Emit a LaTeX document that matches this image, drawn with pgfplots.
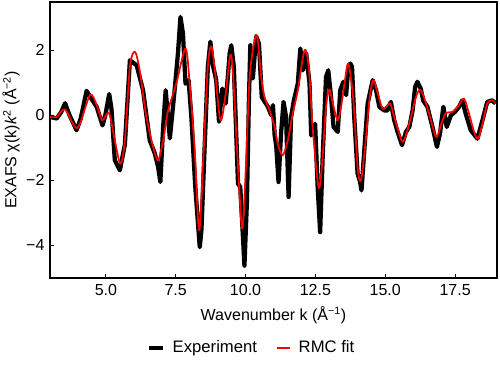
\documentclass[border=0pt]{standalone}
\usepackage{fontspec}
\setmainfont{Liberation Sans}
\usepackage{pgfplots}
\pgfplotsset{compat=1.18}
\begin{document}
\fontsize{12pt}{14.4pt}\selectfont
\begin{tikzpicture}
\begin{axis}[
  scale only axis,
  width=335.25pt, height=207pt,
  xmin=3, xmax=19, ymin=-5, ymax=3.48,
  axis line style={line width=1.5pt},
  tick align=inside, tick pos=left,
  major tick length=3pt,
  tick style={line width=0.8pt, black},
  xtick={5,7.5,10,12.5,15,17.5},
  xticklabels={5.0,7.5,10.0,12.5,15.0,17.5},
  ytick={-4,-2,0,2},
  yticklabels={−4,−2,0,2},
  ticklabel style={font=\fontsize{12pt}{14.4pt}\selectfont},
  xticklabel style={yshift=-0.5pt},
  xlabel={Wavenumber k (Å\textsuperscript{−1})},
  ylabel={EXAFS χ(k)\textit{k}\textsuperscript{2} (Å\textsuperscript{−2})},
  label style={font=\fontsize{12pt}{14.4pt}\selectfont},
  xlabel style={at={(axis description cs:0.5,-0.134)}, anchor=center},
  ylabel style={at={(axis description cs:-0.087,0.5)}, anchor=center},
  legend style={draw=none, fill=none, at={(axis description cs:0.452,-0.254)}, anchor=center,
    legend columns=2,
    /tikz/every odd column/.append style={column sep=4pt},
    /tikz/every even column/.append style={column sep=12pt},
    font=\fontsize{12.5pt}{15pt}\selectfont},
  legend image code/.code={\draw[#1] (0pt,0pt) -- (10pt,0pt);},
]
\addplot[black, line width=3.2pt, line join=round] coordinates {
(3.00,-0.05) (3.24,-0.10) (3.40,0.10) (3.54,0.37) (3.70,0.00) (3.95,-0.46)
(4.10,-0.10) (4.31,0.75) (4.45,0.55) (4.67,0.26) (4.88,-0.31) (4.98,0.00)
(5.12,0.65) (5.20,0.20) (5.32,-1.38) (5.50,-1.69) (5.68,-0.90) (5.86,1.69)
(6.00,1.60) (6.10,1.54) (6.33,0.77) (6.45,0.00) (6.57,-0.77) (6.75,-1.17)
(6.87,-1.59) (6.95,-2.05) (7.05,-0.36) (7.14,0.77) (7.22,0.00) (7.29,-0.71)
(7.46,0.77) (7.58,1.90) (7.67,3.02) (7.76,2.51) (7.85,0.97) (7.96,1.08)
(8.06,-0.05) (8.20,-2.20) (8.36,-4.05) (8.42,-3.54) (8.54,-0.87) (8.65,1.49)
(8.74,2.26) (8.83,1.54) (8.95,1.08) (9.05,-0.20) (9.17,0.82) (9.29,0.36)
(9.43,1.90) (9.49,2.15) (9.58,1.49) (9.73,-2.10) (9.81,-2.20) (9.90,-3.64)
(9.96,-4.62) (10.05,-2.62) (10.12,0.46) (10.17,2.15) (10.26,1.13) (10.38,2.43)
(10.48,2.20) (10.58,0.56) (10.80,0.26) (10.92,0.00) (10.98,0.31) (11.04,-0.60)
(11.10,-0.97) (11.18,-2.05) (11.27,-0.56) (11.36,0.41) (11.45,-0.05) (11.54,-2.51)
(11.63,-0.05) (11.73,0.46) (11.87,0.97) (11.96,2.05) (12.05,1.38) (12.17,1.90)
(12.29,0.97) (12.35,-0.62) (12.49,-0.26) (12.58,-2.20) (12.67,-3.59) (12.76,-1.28)
(12.88,1.18) (12.96,1.38) (13.06,0.56) (13.15,-0.36) (13.30,-0.51) (13.39,0.77)
(13.50,1.03) (13.60,0.62) (13.68,1.49) (13.75,1.59) (13.81,1.49) (13.89,-0.05)
(14.01,-1.79) (14.10,-2.05) (14.15,-2.31) (14.25,-1.08) (14.37,0.36) (14.55,1.08)
(14.67,0.77) (14.79,0.26) (14.96,0.15) (15.08,0.15) (15.20,0.41) (15.32,-0.15)
(15.44,-0.51) (15.60,-0.92) (15.74,-0.51) (15.86,-0.36) (15.98,0.15) (16.07,0.87)
(16.15,1.03) (16.27,0.82) (16.36,0.45) (16.51,0.26) (16.69,-0.36) (16.85,-0.97)
(16.96,-0.56) (17.08,0.26) (17.20,-0.36) (17.35,0.00) (17.49,0.10) (17.64,0.26)
(17.76,0.46) (17.88,0.05) (18.06,-0.46) (18.30,-0.72) (18.48,-0.15) (18.65,0.41)
(18.83,0.46) (18.95,0.36)
};
\addlegendentry{Experiment}
\addplot[red, line width=1.3pt, smooth, line join=round] coordinates {
(3.00,-0.05) (3.24,-0.05) (3.54,0.18) (3.98,-0.39) (4.43,0.62) (4.67,0.31)
(4.87,-0.15) (5.11,0.07) (5.32,-0.77) (5.52,-1.49) (5.68,-0.77) (5.86,1.49)
(6.04,1.95) (6.21,1.38) (6.45,-0.05) (6.69,-0.97) (6.87,-1.38) (7.05,-0.77)
(7.23,0.15) (7.52,0.97) (7.85,2.05) (8.00,0.97) (8.18,-1.08) (8.34,-3.54)
(8.50,-1.08) (8.65,1.49) (8.77,2.12) (8.89,1.49) (9.10,-0.15) (9.29,0.67)
(9.45,1.85) (9.55,1.28) (9.73,-1.59) (9.88,-3.49) (10.00,-1.80) (10.14,1.08)
(10.30,2.20) (10.42,2.41) (10.56,1.18) (10.68,0.56) (10.86,0.15) (11.04,-0.36)
(11.15,-0.87) (11.33,-1.23) (11.51,-0.77) (11.69,0.05) (11.87,0.77) (12.11,2.00)
(12.26,1.49) (12.40,-0.36) (12.61,-2.20) (12.73,-1.59) (12.88,0.26) (13.00,0.79)
(13.15,0.26) (13.30,-0.15) (13.42,0.26) (13.54,0.97) (13.68,1.58) (13.86,0.46)
(14.01,-1.59) (14.13,-2.00) (14.29,-0.87) (14.43,0.46) (14.57,1.08) (14.73,0.67)
(14.90,0.21) (15.05,0.28) (15.18,0.36) (15.32,-0.05) (15.48,-0.51) (15.62,-0.82)
(15.76,-0.56) (15.92,-0.05) (16.10,0.56) (16.24,0.79) (16.36,0.62) (16.57,0.05)
(16.73,-0.46) (16.85,-0.67) (17.01,-0.26) (17.17,0.07) (17.40,0.10) (17.64,0.31)
(17.82,0.51) (18.00,0.05) (18.18,-0.51) (18.32,-0.72) (18.48,-0.26) (18.65,0.36)
(18.83,0.46) (18.95,0.36)
};
\addlegendentry{RMC fit}
\end{axis}
\pgfresetboundingbox
\path[use as bounding box] ([shift={(-37.5pt,-64.5pt)}]current axis.south west) rectangle ([shift={(2.25pt,1.5pt)}]current axis.north east);
\end{tikzpicture}
\end{document}
